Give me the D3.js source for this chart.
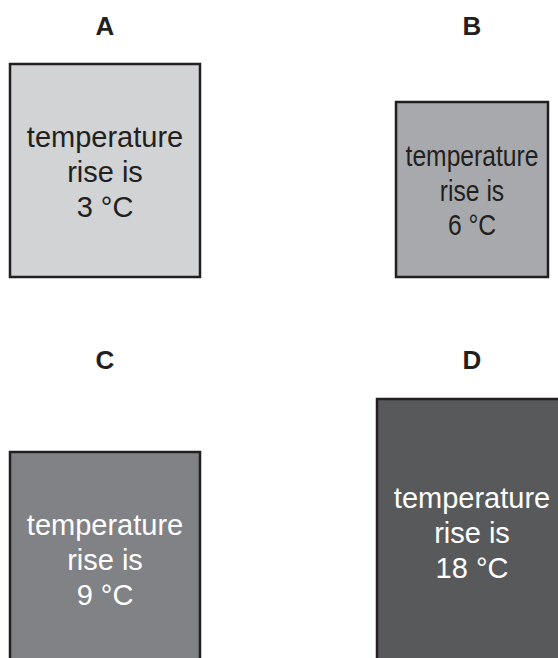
<!DOCTYPE html>
<html>
<head>
<meta charset="utf-8">
<script src="https://cdn.jsdelivr.net/npm/d3@7"></script>
<style>
  html, body { margin: 0; padding: 0; background: #ffffff; }
  svg { display: block; }
</style>
</head>
<body>
<svg id="chart" width="558" height="658"></svg>
<script>
// ---- data ----
const labels = ["A", "B", "C", "D"];
const rises = [3, 6, 9, 18];
const fills = ["#d1d3d4", "#a7a9ac", "#808285", "#58595b"];
const textColors = ["#231f20", "#231f20", "#ffffff", "#ffffff"];
const lineTemplate = ["temperature", "rise is", "{v} °C"];

// ---- layout (geometry in code) ----
const svg = d3.select("#chart");

const cols = d3.scalePoint().domain([0, 1]).range([105, 472]);
const rowLabelY = d3.scalePoint().domain([0, 1]).range([35, 369]);
const rowBottom = d3.scalePoint().domain([0, 1]).range([277, 665]);

const boxW = [190, 152, 190, 190];
const boxH = [213, 175, 213, 266];
const squeeze = [1, 0.85, 1, 1];

const items = labels.map((l, i) => ({
  label: l, rise: rises[i], fill: fills[i], tc: textColors[i],
  col: i % 2, row: Math.floor(i / 2), w: boxW[i], h: boxH[i], sq: squeeze[i]
}));

const g = svg.selectAll("g.item").data(items).join("g").attr("class", "item");

g.append("text")
  .attr("x", d => cols(d.col))
  .attr("y", d => rowLabelY(d.row))
  .attr("text-anchor", "middle")
  .attr("font-family", "Liberation Sans, Arial, sans-serif")
  .attr("font-weight", "bold")
  .attr("font-size", 26)
  .attr("fill", "#231f20")
  .text(d => d.label);

g.append("rect")
  .attr("x", d => cols(d.col) - d.w / 2)
  .attr("y", d => rowBottom(d.row) - d.h)
  .attr("width", d => d.w)
  .attr("height", d => d.h)
  .attr("fill", d => d.fill)
  .attr("stroke", "#231f20")
  .attr("stroke-width", 2.5);

const lineGap = 35;
g.each(function(d) {
  const cx = cols(d.col);
  const cy = rowBottom(d.row) - d.h / 2;
  const t = d3.select(this).append("g")
    .attr("transform", `translate(${cx},${cy}) scale(${d.sq},1)`);
  lineTemplate.forEach((s, k) => {
    t.append("text")
      .attr("x", 0)
      .attr("y", (k - 1) * lineGap + 11)
      .attr("text-anchor", "middle")
      .attr("font-family", "Liberation Sans, Arial, sans-serif")
      .attr("font-size", 29)
      .attr("fill", d.tc)
      .text(s.replace("{v}", d.rise));
  });
});
</script>
</body>
</html>
